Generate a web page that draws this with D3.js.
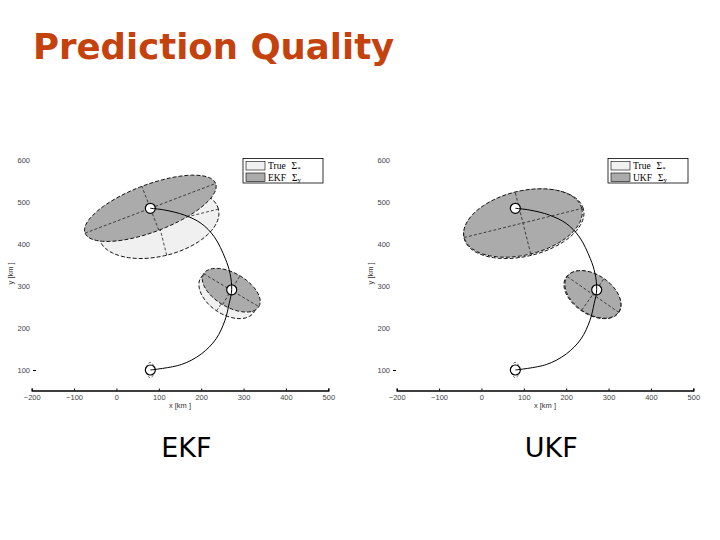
<!DOCTYPE html>
<html>
<head>
<meta charset="utf-8">
<script src="https://cdn.jsdelivr.net/npm/d3@7"></script>
<style>
  body { margin: 0; background: #fff; }
  svg { display: block; }
</style>
</head>
<body>
<div id="chart"></div>
<script>
// tick values of both plots
const xTicks = [-200, -100, 0, 100, 200, 300, 400, 500];
const yTicks = [100, 200, 300, 400, 500, 600];

// true trajectory [x km, y km]
const trajectory = [[80, 100], [153, 113], [200, 138], [235, 174], [256, 218], [266, 258],
    [272, 291], [268, 330], [257, 365], [231, 417], [200, 449], [160, 469], [113, 481], [80, 485]];

// positions marked with a circle
const markers = [[80, 100], [272, 291], [80, 485]];

// covariance ellipses: centre, semi axes (km), angle (deg)
const startEllipse = { cx: 80, cy: 100, a: 18, b: 9, angle: 90 };
const trueEllipses = [{ cx: 100, cy: 448, a: 145, b: 77, angle: 14 },
                      { cx: 262, cy: 279, a: 75, b: 46, angle: -34 }];
const ekfEllipses = [{ cx: 80, cy: 485, a: 165, b: 56, angle: 21 },
                     { cx: 271, cy: 290, a: 76, b: 40, angle: -31 }];
const ukfEllipses = [{ cx: 98, cy: 450, a: 143, b: 76, angle: 14 },
                     { cx: 263, cy: 280, a: 74, b: 46, angle: -35 }];

const panels = [
    { name: "EKF", est: ekfEllipses, offset: 0, yAxisX: 36 },
    { name: "UKF", est: ukfEllipses, offset: 365, yAxisX: 396 }
];

let svg = d3.select("#chart")
    .append("svg")
    .attr("width", 720)
    .attr("height", 540);

// title
svg.append("text")
    .attr("x", 33)
    .attr("y", 59)
    .attr("font-family", "DejaVu Sans, Verdana, sans-serif")
    .attr("font-weight", "bold")
    .style("font-size", "35.5px")
    .attr("fill", "#c4420e")
    .text("Prediction Quality");

// points around an ellipse in km
function ellipsePts(e) {
    let t = e.angle * Math.PI / 180;
    return d3.range(0, 360, 4).map(function(d) {
        let p = d * Math.PI / 180;
        let u = e.a * Math.cos(p), v = e.b * Math.sin(p);
        return [e.cx + u * Math.cos(t) - v * Math.sin(t), e.cy + u * Math.sin(t) + v * Math.cos(t)];
    });
}

function axesPts(e) {
    let t = e.angle * Math.PI / 180;
    let c = Math.cos(t), s = Math.sin(t);
    return [[[e.cx - e.a * c, e.cy - e.a * s], [e.cx + e.a * c, e.cy + e.a * s]],
            [[e.cx + e.b * s, e.cy - e.b * c], [e.cx - e.b * s, e.cy + e.b * c]]];
}

panels.forEach(function(p) {
    let x = d3.scaleLinear().domain([-200, 500]).range([31.7 + p.offset, 328.3 + p.offset]);
    let y = d3.scaleLinear().domain([100, 600]).range([370, 160]);

    let g = svg.append("g");
    let line = d3.line().x(d => x(d[0])).y(d => y(d[1]));
    let closed = d3.line().x(d => x(d[0])).y(d => y(d[1])).curve(d3.curveLinearClosed);

    function drawEllipse(e, fill) {
        g.append("path")
            .attr("d", closed(ellipsePts(e)))
            .style("fill", fill)
            .style("stroke", "#111")
            .style("stroke-width", "1px")
            .style("stroke-dasharray", "4,2");
        axesPts(e).forEach(function(a) {
            g.append("path")
                .attr("d", line(a))
                .style("fill", "none")
                .style("stroke", "#222")
                .style("stroke-width", "0.8px")
                .style("stroke-dasharray", "3,2");
        });
    }

    // true covariance behind the estimate
    trueEllipses.forEach(function(e, i) {
        drawEllipse(e, "#f0f0f0");
        drawEllipse(p.est[i], "#ababab");
    });

    g.append("path")
        .attr("d", closed(ellipsePts(startEllipse)))
        .style("fill", "none")
        .style("stroke", "#111")
        .style("stroke-width", "0.8px")
        .style("stroke-dasharray", "2,2");

    g.selectAll(".marker")
        .data(markers)
        .enter()
        .append("circle")
        .attr("cx", d => x(d[0]))
        .attr("cy", d => y(d[1]))
        .attr("r", 5)
        .style("fill", "#fff")
        .style("stroke", "#000")
        .style("stroke-width", "1.2px");

    g.append("path")
        .datum(trajectory)
        .attr("d", d3.line().x(d => x(d[0])).y(d => y(d[1])).curve(d3.curveCatmullRom))
        .style("fill", "none")
        .style("stroke", "#000")
        .style("stroke-width", "1px");

    // x axis
    let xAxis = g.append("g")
        .attr("transform", "translate(0,390.5)")
        .call(d3.axisBottom(x).tickValues(xTicks).tickSize(-2).tickPadding(4));
    xAxis.select(".domain").style("stroke", "#000").style("stroke-width", "1.3px");
    xAxis.selectAll("text")
        .attr("font-family", "Liberation Sans, Arial, sans-serif")
        .style("font-size", "7.5px")
        .attr("fill", "#444");

    // y axis, only labels and the lowest tick
    let yAxis = g.append("g")
        .attr("transform", "translate(" + p.yAxisX + ",0)")
        .call(d3.axisLeft(y).tickValues(yTicks).tickSize(3).tickPadding(3));
    yAxis.select(".domain").remove();
    yAxis.selectAll(".tick line").filter(d => d !== 100).remove();
    yAxis.selectAll("text")
        .attr("font-family", "Liberation Sans, Arial, sans-serif")
        .style("font-size", "7.5px")
        .attr("fill", "#444");

    // axis labels
    g.append("text")
        .attr("x", x(150))
        .attr("y", 408)
        .attr("text-anchor", "middle")
        .attr("font-family", "Liberation Sans, Arial, sans-serif")
        .style("font-size", "7.5px")
        .attr("fill", "#333")
        .text("x [km ]");
    g.append("text")
        .attr("transform", "translate(" + (p.yAxisX - 23) + "," + y(330) + ") rotate(-90)")
        .attr("text-anchor", "middle")
        .attr("font-family", "Liberation Sans, Arial, sans-serif")
        .style("font-size", "7.5px")
        .attr("fill", "#333")
        .text("y [km ]");

    // legend
    let lg = g.append("g").attr("transform", "translate(" + (243 + p.offset) + ",158.5)");
    lg.append("rect").attr("width", 80).attr("height", 24.5)
        .style("fill", "#fff").style("stroke", "#000").style("stroke-width", "0.8px");
    [["True", "#f0f0f0", "*"], [p.name, "#ababab", "y"]].forEach(function(r, i) {
        lg.append("rect").attr("x", 3).attr("y", 3 + i * 11.5).attr("width", 19).attr("height", 8.5)
            .style("fill", r[1]).style("stroke", "#000").style("stroke-width", "0.6px");
        let t = lg.append("text").attr("x", 25).attr("y", 10.5 + i * 11.5)
            .attr("font-family", "Liberation Serif, Times New Roman, serif")
            .style("font-size", "9.5px")
            .text(r[0]);
        t.append("tspan").attr("dx", 6).text("Σ");
        t.append("tspan").attr("dy", 1.5).style("font-size", "7px").text(r[2]);
    });

    // panel name
    svg.append("text")
        .attr("x", x(165))
        .attr("y", 457)
        .attr("text-anchor", "middle")
        .attr("font-family", "DejaVu Sans, Verdana, sans-serif")
        .style("font-size", "27px")
        .attr("fill", "#000")
        .text(p.name);
});
</script>
</body>
</html>
